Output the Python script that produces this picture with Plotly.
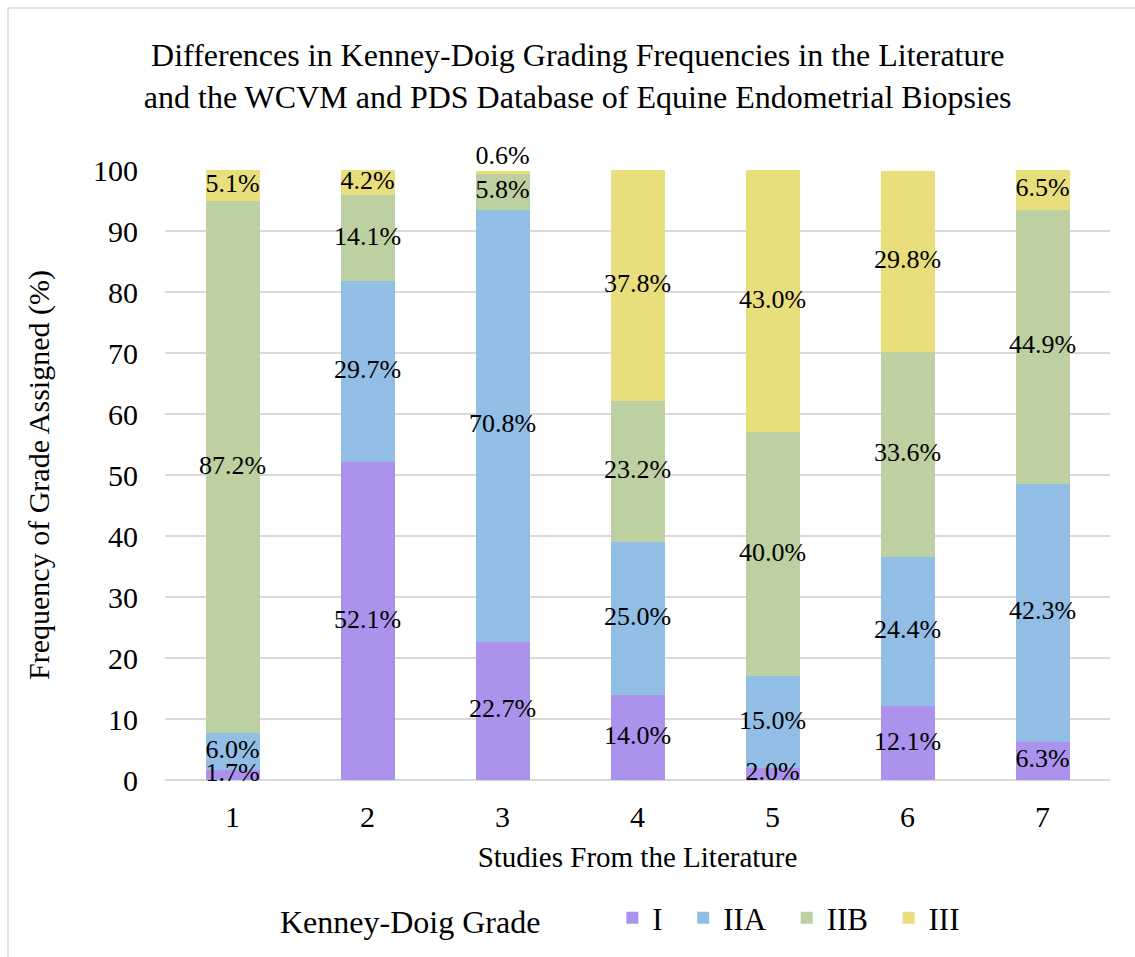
import plotly.graph_objects as go

studies = ["1", "2", "3", "4", "5", "6", "7"]
grades = ["I", "IIA", "IIB", "III"]
grade_I = [1.7, 52.1, 22.7, 14.0, 2.0, 12.1, 6.3]
grade_IIA = [6.0, 29.7, 70.8, 25.0, 15.0, 24.4, 42.3]
grade_IIB = [87.2, 14.1, 5.8, 23.2, 40.0, 33.6, 44.9]
grade_III = [5.1, 4.2, 0.6, 37.8, 43.0, 29.8, 6.5]
y_ticks = [0, 10, 20, 30, 40, 50, 60, 70, 80, 90, 100]

colors = {"I": "#AB92EC", "IIA": "#92BEE5", "IIB": "#BDD0A1", "III": "#E8DE7B"}
series = {"I": grade_I, "IIA": grade_IIA, "IIB": grade_IIB, "III": grade_III}

FONT = "Liberation Serif"
PAD = "\u00a0" * 2  # trailing space after each legend entry

fig = go.Figure()
for g in grades:
    fig.add_trace(go.Bar(
        name=g + PAD, x=studies, y=series[g],
        marker=dict(color=colors[g], line=dict(width=0)),
        hovertemplate=g + ": %{y:.1f}%<extra></extra>",
    ))

# data labels, centred in each stacked segment (positions derived from the data)
base = [0.0] * len(studies)
for g in grades:
    vals = series[g]
    mids, pos = [], []
    for i, v in enumerate(vals):
        top = base[i] + v
        if g == "III" and v < 2:
            mids.append(top)
            pos.append("top center")
        else:
            mids.append(base[i] + v / 2)
            pos.append("middle center")
        base[i] = top
    fig.add_trace(go.Scatter(
        x=studies, y=mids, mode="text",
        text=[f"{v:.1f}%" for v in vals], textposition=pos,
        textfont=dict(family=FONT, size=26, color="black"),
        showlegend=False, hoverinfo="skip", cliponaxis=False,
    ))

L, R, T, B = 165, 25, 170, 173
W, H = 1135, 957
pw, ph = W - L - R, H - T - B
def px(x):
    return (x - L) / pw
def py(y):
    return 1 - (y - T) / ph

fig.add_shape(type="rect", xref="paper", yref="paper",
              x0=px(8), x1=px(1160), y0=py(980), y1=py(7),
              line=dict(color="#D9D9D9", width=1.5), fillcolor="rgba(0,0,0,0)", layer="below")

fig.update_layout(
    width=W, height=H,
    barmode="stack", bargap=0.6,
    plot_bgcolor="white", paper_bgcolor="white",
    margin=dict(l=L, r=R, t=T, b=B),
    font=dict(family=FONT, size=30, color="black"),
    title=dict(
        text="Differences in Kenney-Doig Grading Frequencies in the Literature<br>and the WCVM and PDS Database of Equine Endometrial Biopsies",
        x=0.509, xref="container", xanchor="center",
        y=1 - 66 / H, yref="container", yanchor="top",
        font=dict(family=FONT, size=32, color="black"),
    ),
    xaxis=dict(
        title=dict(text="Studies From the Literature", standoff=14,
                   font=dict(family=FONT, size=29)),
        tickfont=dict(family=FONT, size=30),
        showgrid=False, showline=False, ticks="", ticklabelstandoff=16,
    ),
    yaxis=dict(
        title=dict(text="Frequency of Grade Assigned (%)", standoff=34,
                   font=dict(family=FONT, size=30)),
        range=[0, 100], tickvals=y_ticks,
        tickfont=dict(family=FONT, size=30),
        showgrid=True, gridcolor="#D9D9D9", gridwidth=1.5,
        zeroline=True, zerolinecolor="#D9D9D9", zerolinewidth=1.5,
        showline=False, ticks="", ticklabelstandoff=26,
    ),
    legend=dict(
        orientation="h", x=px(278), xanchor="left", y=py(923), yanchor="middle",
        title=dict(text="Kenney-Doig Grade" + "\u00a0" * 8, side="left",
                   font=dict(family=FONT, size=32)),
        font=dict(family=FONT, size=31),
        traceorder="normal", itemwidth=30,
    ),
    showlegend=True,
)

fig.write_html("out.html")
